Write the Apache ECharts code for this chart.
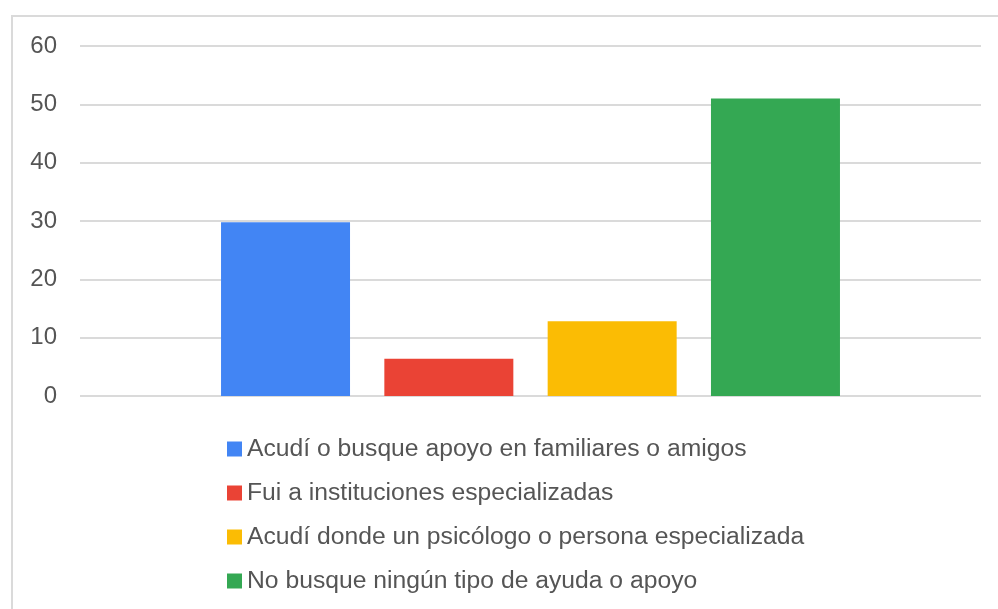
<!DOCTYPE html>
<html>
<head>
<meta charset="utf-8">
<script src="https://cdn.jsdelivr.net/npm/echarts@6/dist/echarts.min.js"></script>
<style>
html,body{margin:0;padding:0;background:#fff;}
#chart{width:998px;height:609px;}
</style>
</head>
<body>
<div id="chart"></div>
<script>
const seriesNames = [
  "Acudí o busque apoyo en familiares o amigos",
  "Fui a instituciones especializadas",
  "Acudí donde un psicólogo o persona especializada",
  "No busque ningún tipo de ayuda o apoyo"
];
const seriesValues = [29.8, 6.4, 12.8, 51.0];
const seriesColors = ["#4285F4", "#EA4335", "#FBBC04", "#34A853"];
const yTicks = [0, 10, 20, 30, 40, 50, 60];

const chart = echarts.init(document.getElementById('chart'), null, {renderer: 'canvas'});
const fontFam = "'Liberation Sans', Arial, sans-serif";
chart.setOption({
  animation: false,
  backgroundColor: '#ffffff',
  graphic: [{
    type: 'rect', silent: true, z: -10,
    shape: {x: 12, y: 16, width: 1100, height: 800},
    style: {fill: 'none', stroke: '#dadada', lineWidth: 2}
  }],
  grid: {left: 80, right: 17, top: 46, bottom: 213, containLabel: false},
  legend: {
    orient: 'vertical',
    left: 222, top: 429,
    icon: 'rect',
    itemWidth: 15, itemHeight: 15,
    itemGap: 14,
    data: seriesNames,
    textStyle: {fontFamily: fontFam, fontSize: 24.7, color: '#555555', lineHeight: 30}
  },
  xAxis: {
    type: 'category',
    data: [''],
    axisLine: {show: false},
    axisTick: {show: false},
    axisLabel: {show: false}
  },
  yAxis: {
    type: 'value',
    min: yTicks[0], max: yTicks[yTicks.length - 1], interval: 10,
    axisLine: {show: false},
    axisTick: {show: false},
    axisLabel: {fontFamily: fontFam, fontSize: 24, color: '#555555', margin: 23},
    splitLine: {lineStyle: {color: '#dadada', width: 2}}
  },
  series: seriesNames.map((n, i) => ({
    name: n,
    type: 'bar',
    data: [seriesValues[i]],
    barWidth: 129,
    barGap: '26.6%',
    itemStyle: {color: seriesColors[i]}
  }))
});
</script>
</body>
</html>
